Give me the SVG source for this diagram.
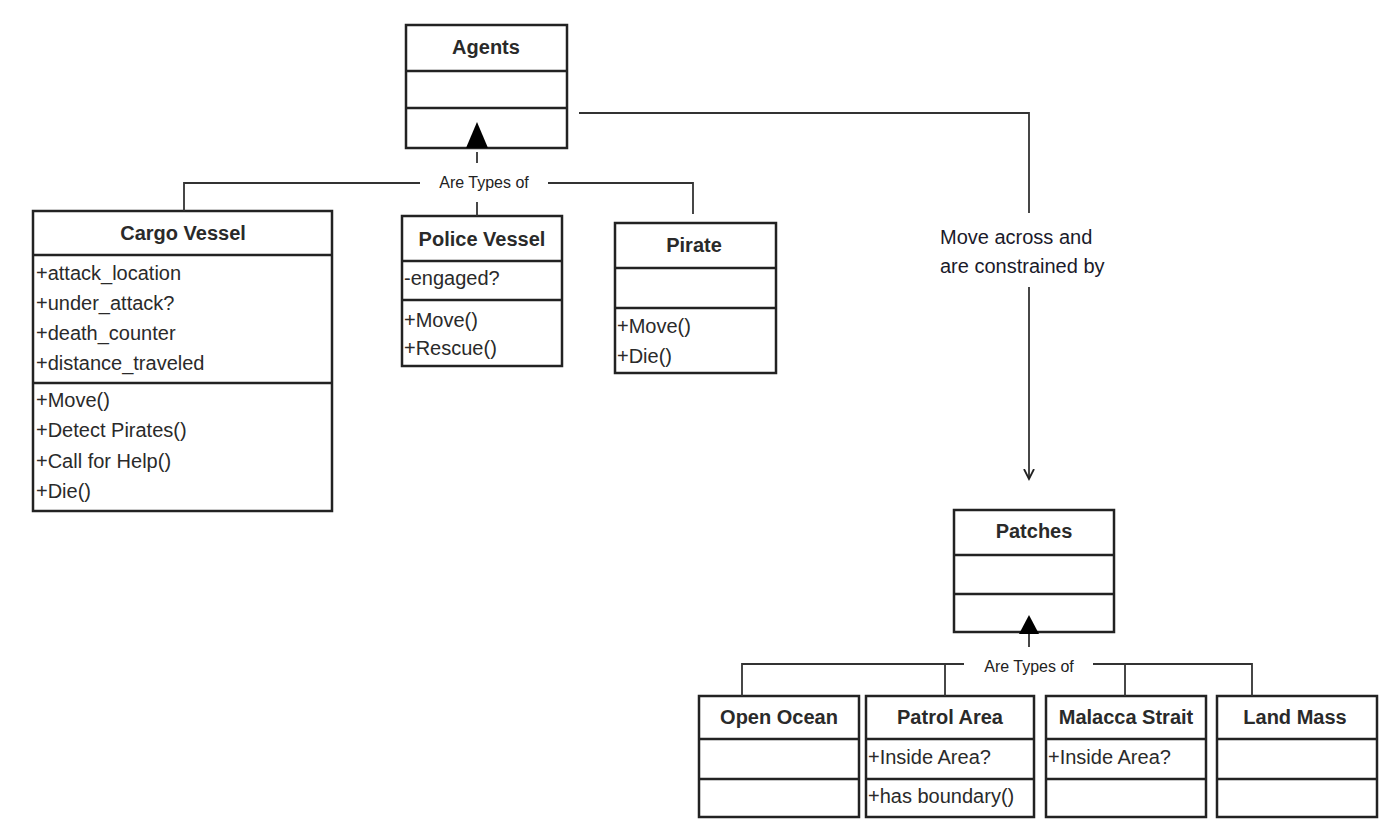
<svg xmlns="http://www.w3.org/2000/svg" width="1396" height="826" viewBox="0 0 1396 826">
<defs>
<style>
.box{fill:#fff;stroke:#222;stroke-width:2.5}
.div{stroke:#222;stroke-width:2.5}
.ln{fill:none;stroke:#333;stroke-width:1.8}
.t{font-family:"Liberation Sans",Arial,sans-serif;font-size:20px;font-weight:bold;fill:#2a2a2a;text-anchor:middle}
.m{font-family:"Liberation Sans",Arial,sans-serif;font-size:20px;fill:#2a2a2a}
.lbl{font-family:"Liberation Sans",Arial,sans-serif;font-size:16px;fill:#222;text-anchor:middle}
.note{font-family:"Liberation Sans",Arial,sans-serif;font-size:20px;fill:#1a1a2a}
</style>
<marker id="open" markerWidth="12" markerHeight="12" refX="10" refY="6" orient="auto" markerUnits="userSpaceOnUse">
<path d="M0,1 L10,6 L0,11" fill="none" stroke="#222" stroke-width="1.8"/>
</marker>
</defs>
<rect width="1396" height="826" fill="#fff"/>

<g id="agents">
<rect class="box" x="406" y="25" width="161" height="123"/>
<line class="div" x1="406" y1="71" x2="567" y2="71"/>
<line class="div" x1="406" y1="108" x2="567" y2="108"/>
<text class="t" x="486" y="54">Agents</text>
</g>

<g id="cargo-vessel">
<rect class="box" x="33" y="211" width="299" height="300"/>
<line class="div" x1="33" y1="255" x2="332" y2="255"/>
<line class="div" x1="33" y1="383" x2="332" y2="383"/>
<text class="t" x="183" y="240">Cargo Vessel</text>
<text class="m" x="36" y="280">+attack_location</text>
<text class="m" x="36" y="310">+under_attack?</text>
<text class="m" x="36" y="340">+death_counter</text>
<text class="m" x="36" y="370">+distance_traveled</text>
<text class="m" x="36" y="407">+Move()</text>
<text class="m" x="36" y="437">+Detect Pirates()</text>
<text class="m" x="36" y="468">+Call for Help()</text>
<text class="m" x="36" y="498">+Die()</text>
</g>

<g id="police-vessel">
<rect class="box" x="402" y="216" width="160" height="150"/>
<line class="div" x1="402" y1="261" x2="562" y2="261"/>
<line class="div" x1="402" y1="300" x2="562" y2="300"/>
<text class="t" x="482" y="246">Police Vessel</text>
<text class="m" x="404" y="285">-engaged?</text>
<text class="m" x="404" y="327">+Move()</text>
<text class="m" x="404" y="355">+Rescue()</text>
</g>

<g id="pirate">
<rect class="box" x="615" y="223" width="161" height="150"/>
<line class="div" x1="615" y1="268" x2="776" y2="268"/>
<line class="div" x1="615" y1="308" x2="776" y2="308"/>
<text class="t" x="694" y="252">Pirate</text>
<text class="m" x="617" y="333">+Move()</text>
<text class="m" x="617" y="363">+Die()</text>
</g>

<g id="patches">
<rect class="box" x="954" y="510" width="160" height="122"/>
<line class="div" x1="954" y1="555" x2="1114" y2="555"/>
<line class="div" x1="954" y1="594" x2="1114" y2="594"/>
<text class="t" x="1034" y="538">Patches</text>
</g>

<g id="open-ocean">
<rect class="box" x="699" y="696" width="160" height="121"/>
<line class="div" x1="699" y1="739" x2="859" y2="739"/>
<line class="div" x1="699" y1="779" x2="859" y2="779"/>
<text class="t" x="779" y="724">Open Ocean</text>
</g>

<g id="patrol-area">
<rect class="box" x="866" y="696" width="168" height="121"/>
<line class="div" x1="866" y1="739" x2="1034" y2="739"/>
<line class="div" x1="866" y1="779" x2="1034" y2="779"/>
<text class="t" x="950" y="724">Patrol Area</text>
<text class="m" x="868" y="764">+Inside Area?</text>
<text class="m" x="868" y="803">+has boundary()</text>
</g>

<g id="malacca-strait">
<rect class="box" x="1046" y="696" width="160" height="121"/>
<line class="div" x1="1046" y1="739" x2="1206" y2="739"/>
<line class="div" x1="1046" y1="779" x2="1206" y2="779"/>
<text class="t" x="1126" y="724">Malacca Strait</text>
<text class="m" x="1048" y="764">+Inside Area?</text>
</g>

<g id="land-mass">
<rect class="box" x="1217" y="696" width="160" height="121"/>
<line class="div" x1="1217" y1="739" x2="1377" y2="739"/>
<line class="div" x1="1217" y1="779" x2="1377" y2="779"/>
<text class="t" x="1295" y="724">Land Mass</text>
</g>

<g id="connectors">
<!-- Agents generalization -->
<polygon points="477,122 466,148 488,148" fill="#000"/>
<line class="ln" x1="477" y1="152" x2="477" y2="163"/>
<polyline class="ln" points="184,211 184,183 420,183"/>
<polyline class="ln" points="548,183 693,183 693,214"/>
<line class="ln" x1="477" y1="202" x2="477" y2="216"/>
<text class="lbl" x="484" y="188">Are Types of</text>
<!-- Agents to Patches -->
<polyline class="ln" points="579,113 1029,113 1029,213"/>
<line class="ln" x1="1029" y1="287" x2="1029" y2="479" marker-end="url(#open)"/>
<text class="note" x="940" y="244">Move  across and</text>
<text class="note" x="940" y="273">are constrained by</text>
<!-- Patches generalization -->
<polygon points="1029,615 1019,634 1039,634" fill="#000"/>
<line class="ln" x1="1029" y1="634" x2="1029" y2="647"/>
<polyline class="ln" points="742,696 742,664 964,664"/>
<line class="ln" x1="945" y1="664" x2="945" y2="696"/>
<polyline class="ln" points="1093,664 1252,664 1252,696"/>
<line class="ln" x1="1125" y1="664" x2="1125" y2="696"/>
<text class="lbl" x="1029" y="672">Are Types of</text>
</g>
</svg>
